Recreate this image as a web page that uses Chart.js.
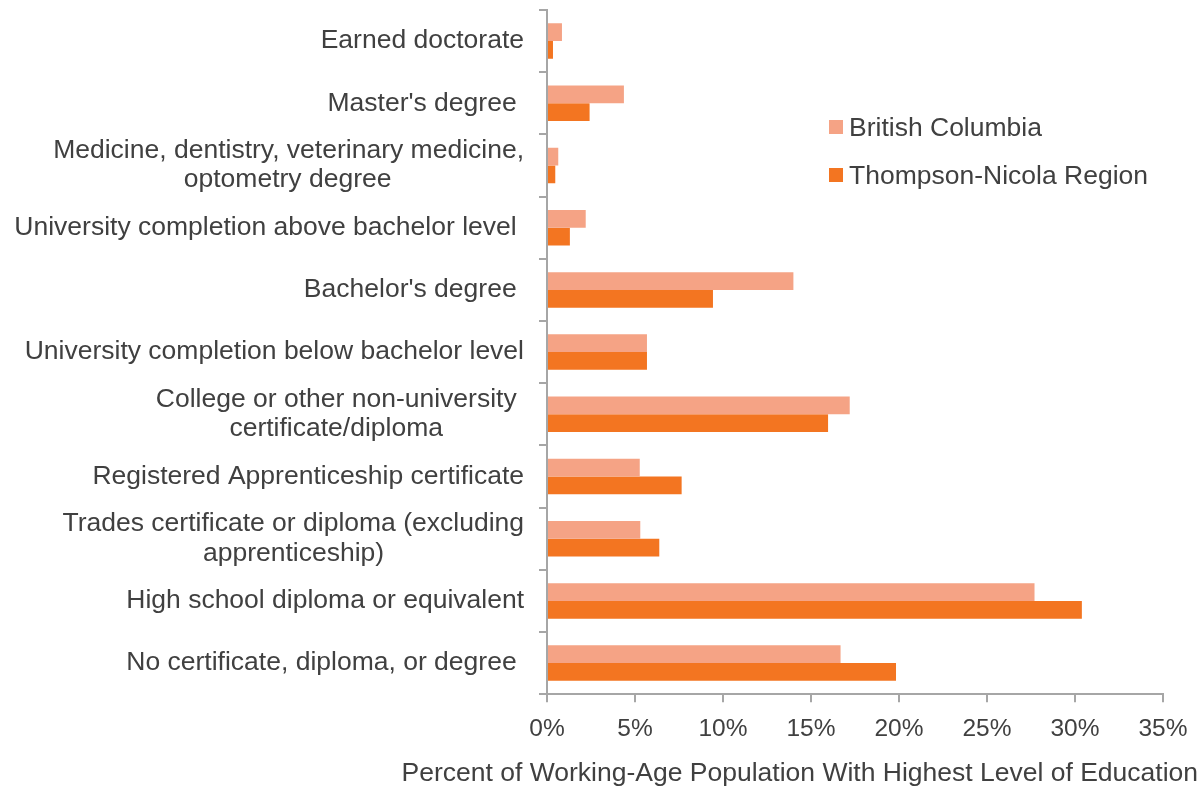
<!DOCTYPE html>
<html>
<head>
<meta charset="utf-8">
<script src="https://cdn.jsdelivr.net/npm/chart.js@4.4.1/dist/chart.umd.min.js"></script>
<style>
  html, body { margin: 0; padding: 0; background: #ffffff; }
  #wrap { position: relative; width: 1204px; height: 790px; }
  #legend { position: absolute; left: 829px; top: 108px; font-family: 'Liberation Sans', Arial, sans-serif; font-size: 26.5px; color: #404040; }
  .li { position: absolute; left: 0; white-space: nowrap; height: 30px; line-height: 30px; }
  .sw { position: absolute; left: 0; top: 12px; width: 14px; height: 14px; }
  .lt { position: absolute; left: 20px; top: 4px; }
</style>
</head>
<body>
<div id="wrap">
  <canvas id="c" width="1204" height="790"></canvas>
  <div id="legend"></div>
</div>
<script>
// ---- data ----
const categoryLines = [
  ["Earned doctorate"],
  ["Master's degree "],
  ["Medicine, dentistry, veterinary medicine,", "optometry degree"],
  ["University completion above bachelor level "],
  ["Bachelor's degree "],
  ["University completion below bachelor level"],
  ["College or other non-university ", "certificate/diploma"],
  ["Registered Apprenticeship certificate"],
  ["Trades certificate or diploma (excluding", "apprenticeship)"],
  ["High school diploma or equivalent"],
  ["No certificate, diploma, or degree "]
];
const seriesNames = ["British Columbia", "Thompson-Nicola Region"];
const britishColumbia = [0.85, 4.37, 0.64, 2.2, 14.0, 5.68, 17.2, 5.27, 5.3, 27.7, 16.68];
const thompsonNicola  = [0.34, 2.42, 0.47, 1.3, 9.43, 5.68, 15.97, 7.65, 6.38, 30.39, 19.83];
const xTickValues = [0, 5, 10, 15, 20, 25, 30, 35];
const xTitle = "Percent of Working-Age Population With Highest Level of Education";
const seriesColors = ["#F5A385", "#F37521"];

const FONT = "'Liberation Sans', Arial, sans-serif";
const TEXT = "#404040";
const AXIS = "#A6A6A6";

// Centre the continuation lines of wrapped labels under the first line
// (Chart.js right-aligns each line, so trailing spaces are added).
const mctx = document.createElement('canvas').getContext('2d');
mctx.font = "26.5px " + FONT;
const spaceW = mctx.measureText(" ").width;
function centredLines(lines) {
  if (lines.length === 1) return lines[0];
  const first = lines[0];
  const trail = first.length - first.trimEnd().length;
  const w1 = mctx.measureText(first.trimEnd()).width;
  return lines.map((ln, i) => {
    if (i === 0) return ln;
    const w = mctx.measureText(ln).width;
    const n = Math.max(0, Math.round(((w1 - w) / 2) / spaceW) + trail);
    return ln + " ".repeat(n);
  });
}
const labels = categoryLines.map(centredLines);

// HTML legend
const leg = document.getElementById('legend');
seriesNames.forEach((name, i) => {
  const d = document.createElement('div');
  d.className = 'li';
  d.style.top = (i * 48) + 'px';
  d.innerHTML = '<span class="sw" style="background:' + seriesColors[i] + '"></span><span class="lt"></span>';
  d.querySelector('.lt').textContent = name;
  leg.appendChild(d);
});

new Chart(document.getElementById('c'), {
  type: 'bar',
  data: {
    labels: labels,
    datasets: [
      { label: seriesNames[0], data: britishColumbia, backgroundColor: seriesColors[0], borderWidth: 0,
        categoryPercentage: 0.57, barPercentage: 1.0 },
      { label: seriesNames[1], data: thompsonNicola, backgroundColor: seriesColors[1], borderWidth: 0,
        categoryPercentage: 0.57, barPercentage: 1.0 }
    ]
  },
  options: {
    indexAxis: 'y',
    responsive: false,
    animation: false,
    devicePixelRatio: 1,
    layout: { padding: { top: 10, right: 6, bottom: 0, left: 0 } },
    plugins: {
      legend: { display: false },
      tooltip: { enabled: false },
      title: {
        display: true,
        position: 'bottom',
        align: 'end',
        text: xTitle,
        color: TEXT,
        font: { family: FONT, size: 26.5, weight: 'normal', lineHeight: 1.2 },
        padding: { top: 0, bottom: 0 }
      }
    },
    scales: {
      x: {
        type: 'linear',
        position: 'bottom',
        min: 0,
        max: 35,
        afterBuildTicks: (s) => { s.ticks = xTickValues.map(v => ({ value: v })); },
        ticks: {
          callback: (v) => v + '%',
          color: TEXT,
          font: { family: FONT, size: 24.5, lineHeight: 1.2 },
          padding: 12,
          maxRotation: 0,
          autoSkip: false
        },
        grid: { display: true, drawOnChartArea: false, drawTicks: true, tickLength: 8, color: AXIS, lineWidth: 2 },
        border: { display: true, color: AXIS, width: 2 },
        afterFit: (s) => { s.height = 64; s.paddingLeft = 0; s.paddingRight = 0; }
      },
      y: {
        type: 'category',
        position: 'left',
        ticks: {
          color: TEXT,
          font: { family: FONT, size: 26.5, lineHeight: 1.1 },
          padding: 15,
          autoSkip: false
        },
        grid: { display: true, offset: true, drawOnChartArea: false, drawTicks: true, tickLength: 8, color: AXIS, lineWidth: 2 },
        border: { display: true, color: AXIS, width: 2 },
        afterFit: (s) => { s.width = 547; s.paddingTop = 0; s.paddingBottom = 0; }
      },
      pad: {
        type: 'linear',
        position: 'right',
        display: true,
        grid: { display: false },
        border: { display: false },
        ticks: { display: false },
        afterFit: (s) => { s.width = 35; s.paddingTop = 0; s.paddingBottom = 0; }
      }
    }
  }
});
</script>
</body>
</html>
